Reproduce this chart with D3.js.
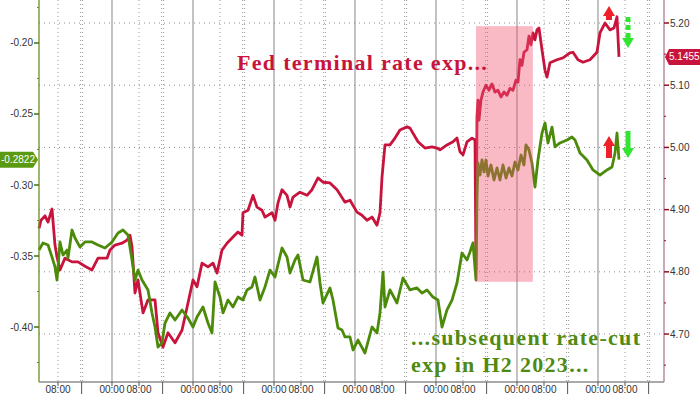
<!DOCTYPE html>
<html>
<head>
<meta charset="utf-8">
<script src="https://cdn.jsdelivr.net/npm/d3@7"></script>
<style>
  html, body { margin: 0; padding: 0; background: #fff; }
  svg { display: block; }
</style>
</head>
<body>
<div id="chart"></div>
<script>
// hours since the first midnight on the chart
const redHours = [2.37, 2.96, 4.15, 5.04, 6.22, 7.11, 7.70, 8.59, 10.07, 12.15, 13.93, 16.0, 18.07, 19.85, 22.52, 23.41,
  24.89, 26.96, 28.44, 29.33, 29.93, 30.81, 31.70, 33.19, 34.67, 36.74, 37.63, 39.11, 40.59, 42.67, 44.74, 46.52,
  48.0, 49.19, 50.67, 52.44, 53.93, 55.11, 56.59, 58.07, 59.85, 61.33, 62.52, 62.81, 64.30, 65.78, 66.96, 68.44,
  69.33, 71.41, 72.30, 73.19, 74.37, 75.85, 76.74, 77.63, 79.70, 81.78, 83.26, 85.04, 86.52, 88.59, 90.67, 93.04,
  94.52, 96.59, 98.07, 99.56, 101.04, 102.52, 103.41, 104.0, 104.89, 106.37, 107.85, 109.33, 111.41, 112.30, 114.67,
  116.74, 118.81, 120.30, 121.19, 123.26, 125.04, 126.22, 127.11, 128.0, 129.19, 130.67, 131.56, 131.85, 132.15,
  132.44, 132.74, 133.33, 133.93, 134.81, 135.70, 136.59, 137.48, 138.37, 139.26, 140.15, 141.04, 141.93, 142.81,
  143.70, 144.30, 144.89, 145.48, 146.07, 146.96, 147.56, 148.15, 148.74, 149.33, 149.93, 150.52,
  151.41, 152.30, 152.89, 153.78, 155.85, 157.63, 159.70, 160.59, 162.07, 163.56, 165.63,
  167.70, 168.59, 170.07, 171.56, 172.74, 173.63, 174.22];
const redValues = [4.870, 4.883, 4.890, 4.880, 4.901, 4.843, 4.824, 4.803, 4.822, 4.816, 4.816, 4.809, 4.803, 4.822, 4.822, 4.835,
  4.843, 4.846, 4.851, 4.859, 4.840, 4.766, 4.787, 4.734, 4.755, 4.755, 4.702, 4.679, 4.702, 4.686, 4.706, 4.750,
  4.787, 4.776, 4.814, 4.808, 4.814, 4.798, 4.835, 4.846, 4.856, 4.864, 4.859, 4.895, 4.899, 4.923, 4.904, 4.899,
  4.888, 4.895, 4.883, 4.911, 4.932, 4.923, 4.904, 4.920, 4.928, 4.923, 4.932, 4.951, 4.944, 4.943, 4.932, 4.912,
  4.915, 4.896, 4.891, 4.883, 4.888, 4.875, 4.895, 4.952, 5.004, 5.004, 5.015, 5.028, 5.033, 5.031, 5.009,
  4.999, 5.001, 4.999, 4.996, 5.004, 5.009, 5.015, 4.993, 4.988, 5.009, 5.015, 5.012, 4.803, 5.049,
  5.076, 5.044, 5.076, 5.089, 5.100, 5.092, 5.102, 5.089, 5.092, 5.081, 5.089, 5.084, 5.095, 5.092,
  5.108, 5.105, 5.141, 5.132, 5.153, 5.157, 5.179, 5.165, 5.184, 5.173, 5.189, 5.192,
  5.157, 5.124, 5.113, 5.136, 5.141, 5.144, 5.152, 5.153, 5.141, 5.137, 5.141,
  5.153, 5.184, 5.200, 5.189, 5.192, 5.210, 5.1455];

const greenHours = [2.37, 3.56, 5.04, 6.22, 7.11, 7.70, 8.59, 9.48, 10.67, 10.96, 12.15, 13.04, 14.52, 16.0, 18.07, 19.85,
  21.93, 24.0, 25.78, 27.26, 28.74, 29.93, 30.81, 31.70, 32.89, 34.67, 35.85, 36.74, 37.63, 38.81, 39.70, 41.19,
  42.67, 44.74, 46.52, 48.0, 49.19, 50.96, 52.44, 53.63, 54.52, 56.0, 56.89, 58.37, 59.85, 61.33, 62.81, 64.0,
  65.48, 66.37, 67.85, 69.33, 70.81, 72.30, 74.37, 75.85, 76.74, 78.22, 79.11, 80.59, 82.67, 84.74, 85.63, 86.52,
  88.59, 89.48, 90.96, 92.15, 93.04, 94.52, 95.41, 96.89, 98.96, 101.04, 102.52, 103.41, 104.30, 104.89, 106.37,
  108.44, 110.22, 112.30, 114.37, 115.85, 117.33, 119.11, 120.59, 121.78, 123.26, 124.74, 126.22, 127.70, 129.19,
  130.07, 130.96, 131.85, 132.15,
  132.44, 133.04, 133.63, 134.22, 134.81, 135.41, 136.30, 137.19, 138.07, 138.96, 139.85, 140.74, 141.63, 142.52,
  143.41, 144.30, 145.19, 146.07, 146.67, 147.56, 148.44, 149.33,
  150.22, 151.41, 152.30, 153.19, 154.37, 155.26, 156.74, 158.81, 160.30, 161.19,
  162.67, 164.74, 166.52, 168.59, 170.67, 172.15, 173.04, 173.63, 174.22];
const greenValues = [-0.3458, -0.3408, -0.3423, -0.3507, -0.3577, -0.3669, -0.3401, -0.3493, -0.3458, -0.3514, -0.3317, -0.3373, -0.3437, -0.3401, -0.3401, -0.3423,
  -0.3444, -0.3401, -0.3338, -0.3317, -0.3352, -0.3528, -0.3669, -0.3599, -0.3669, -0.3739, -0.3901, -0.4000, -0.4141, -0.4113, -0.3972, -0.3901,
  -0.3951, -0.3880, -0.3937, -0.4000, -0.3930, -0.3859, -0.3972, -0.4042, -0.3683, -0.3789, -0.3901, -0.3810, -0.3859, -0.3789, -0.3810, -0.3739,
  -0.3718, -0.3648, -0.3810, -0.3718, -0.3599, -0.3648, -0.3444, -0.3507, -0.3620, -0.3528, -0.3493, -0.3669, -0.3683, -0.3507, -0.3690, -0.3831,
  -0.3725, -0.3810, -0.4007, -0.4021, -0.4070, -0.4070, -0.4162, -0.4092, -0.4183, -0.4000, -0.4042, -0.3901, -0.3613, -0.3859, -0.3739,
  -0.3831, -0.3655, -0.3739, -0.3725, -0.3761, -0.3739, -0.3789, -0.3810, -0.4000, -0.3880, -0.3810, -0.3690, -0.3479, -0.3528,
  -0.3472, -0.3408, -0.3669, -0.3092,
  -0.2845, -0.2930, -0.2824, -0.2908, -0.2824, -0.2937, -0.2859, -0.2965, -0.2880, -0.2965, -0.2859, -0.2951, -0.2880, -0.2937,
  -0.2838, -0.2894, -0.2789, -0.2859, -0.2718, -0.2754, -0.2845, -0.3014,
  -0.2824, -0.2634, -0.2563, -0.2704, -0.2592, -0.2732, -0.2704, -0.2683, -0.2662, -0.2683,
  -0.2775, -0.2824, -0.2894, -0.2930, -0.2894, -0.2873, -0.2775, -0.2634, -0.2822];

const leftTicks = [-0.20, -0.25, -0.30, -0.35, -0.40];
const rightTicks = [5.20, 5.10, 5.00, 4.90, 4.80, 4.70];
const redLast = 5.1455;
const greenLast = -0.2822;
// shaded window, in hours and right-axis units
const shadeHours = [131.85, 148.7];
const shadeValues = [4.784, 5.195];

const width = 700;
const height = 394;
const margin = { top: 0, right: 36, bottom: 12, left: 39 };
const base = new Date(2023, 1, 6, 0, 0);
const at = (h) => new Date(base.getTime() + h * 3600 * 1000);

const x = d3.scaleTime()
  .domain([at(2.37), at(187.56)])
  .range([margin.left, width - margin.right]);
const yR = d3.scaleLinear().domain([4.6229, 5.237]).range([height - margin.bottom, margin.top]);
const yL = d3.scaleLinear().domain([-0.43873, -0.16972]).range([height - margin.bottom, margin.top]);

const svg = d3.select("#chart").append("svg")
  .attr("width", width)
  .attr("height", height)
  .style("font-family", "'Liberation Sans', Arial, sans-serif");

const plotBottom = height - margin.bottom;
const plotRight = width - margin.right;

// vertical grid: solid at midnight, dotted at 08:00, double dotted at 15:00
const hours = d3.timeHours(x.domain()[0], x.domain()[1]);
const midnights = hours.filter((d) => d.getHours() === 0);
const eights = hours.filter((d) => d.getHours() === 8);
const fifteens = hours.filter((d) => d.getHours() === 15);

const grid = svg.append("g");
grid.selectAll(".mid").data(midnights).join("line")
  .attr("x1", (d) => x(d)).attr("x2", (d) => x(d))
  .attr("y1", 0).attr("y2", plotBottom)
  .attr("stroke", "#9a9a9a").attr("stroke-width", 1.2);
grid.selectAll(".eight").data(eights).join("line")
  .attr("x1", (d) => x(d)).attr("x2", (d) => x(d))
  .attr("y1", 0).attr("y2", plotBottom)
  .attr("stroke", "#9a9a9a").attr("stroke-dasharray", "1,3");
[-1, 1].forEach((off) => {
  grid.append("g").selectAll("line").data(fifteens).join("line")
    .attr("x1", (d) => x(d) + off).attr("x2", (d) => x(d) + off)
    .attr("y1", 0).attr("y2", plotBottom)
    .attr("stroke", "#9a9a9a").attr("stroke-dasharray", "1,3");
});
grid.selectAll(".hz").data(rightTicks).join("line")
  .attr("x1", margin.left).attr("x2", plotRight)
  .attr("y1", (d) => yR(d)).attr("y2", (d) => yR(d))
  .attr("stroke", "#8a8a8a").attr("stroke-dasharray", "1,4");

// series
const line = (xs, ys, yScale) => d3.line()
  .x((d, i) => x(at(xs[i])))
  .y((d) => yScale(d))(ys);

svg.append("path")
  .attr("d", line(redHours, redValues, yR))
  .attr("fill", "none").attr("stroke", "#c8143c").attr("stroke-width", 2.8)
  .attr("stroke-linejoin", "round");
svg.append("path")
  .attr("d", line(greenHours, greenValues, yL))
  .attr("fill", "none").attr("stroke", "#4c8a0a").attr("stroke-width", 2.8)
  .attr("stroke-linejoin", "round");

// highlight box
svg.append("rect")
  .attr("x", x(at(shadeHours[0])))
  .attr("width", x(at(shadeHours[1])) - x(at(shadeHours[0])))
  .attr("y", yR(shadeValues[1]))
  .attr("height", yR(shadeValues[0]) - yR(shadeValues[1]))
  .attr("fill", "rgb(240,80,110)").attr("opacity", 0.4);

// x axis
svg.append("line")
  .attr("x1", margin.left).attr("x2", plotRight)
  .attr("y1", plotBottom).attr("y2", plotBottom)
  .attr("stroke", "#555");
svg.append("g").selectAll("line").data(midnights.concat(eights)).join("line")
  .attr("x1", (d) => x(d)).attr("x2", (d) => x(d))
  .attr("y1", plotBottom).attr("y2", plotBottom + 4)
  .attr("stroke", "#555");
svg.append("g").selectAll("line").data(fifteens).join("line")
  .attr("x1", (d) => x(d)).attr("x2", (d) => x(d))
  .attr("y1", plotBottom).attr("y2", height)
  .attr("stroke", "#555");
const fmt = d3.timeFormat("%H:%M");
svg.append("g").selectAll("text").data(midnights.concat(eights)).join("text")
  .attr("x", (d) => x(d)).attr("y", height - 1)
  .attr("text-anchor", "middle")
  .attr("font-size", 10).attr("fill", "#333")
  .text(fmt);

// left axis
svg.append("line")
  .attr("x1", margin.left).attr("x2", margin.left)
  .attr("y1", 0).attr("y2", plotBottom)
  .attr("stroke", "#6b8e23").attr("stroke-width", 1.3);
const leftAxis = svg.append("g");
leftAxis.selectAll("line").data(leftTicks).join("line")
  .attr("x1", margin.left - 5).attr("x2", margin.left)
  .attr("y1", (d) => yL(d)).attr("y2", (d) => yL(d))
  .attr("stroke", "#4c6a10").attr("stroke-width", 1.5);
leftAxis.append("g").selectAll("line").data(leftTicks.map((d) => d - 0.025).concat([-0.175]))
  .join("line")
  .attr("x1", margin.left - 2).attr("x2", margin.left)
  .attr("y1", (d) => yL(d)).attr("y2", (d) => yL(d))
  .attr("stroke", "#6b8e23");
leftAxis.selectAll("text").data(leftTicks).join("text")
  .attr("x", margin.left - 6).attr("y", (d) => yL(d) + 3.5)
  .attr("text-anchor", "end")
  .attr("font-size", 10).attr("fill", "#333")
  .text((d) => d3.format(".2f")(d).replace("−", "-"));

// right axis
svg.append("line")
  .attr("x1", plotRight).attr("x2", plotRight)
  .attr("y1", 0).attr("y2", plotBottom)
  .attr("stroke", "#b07a90").attr("stroke-width", 1.3);
const rightAxis = svg.append("g");
rightAxis.selectAll("line").data(rightTicks).join("line")
  .attr("x1", plotRight).attr("x2", plotRight + 5)
  .attr("y1", (d) => yR(d)).attr("y2", (d) => yR(d))
  .attr("stroke", "#8a1030").attr("stroke-width", 1.5);
rightAxis.append("g").selectAll("line").data(rightTicks.map((d) => d - 0.05))
  .join("line")
  .attr("x1", plotRight).attr("x2", plotRight + 2)
  .attr("y1", (d) => yR(d)).attr("y2", (d) => yR(d))
  .attr("stroke", "#8a1030");
rightAxis.selectAll("text").data(rightTicks).join("text")
  .attr("x", plotRight + 6).attr("y", (d) => yR(d) + 3.5)
  .attr("font-size", 10).attr("fill", "#333")
  .text(d3.format(".2f"));

// last-value badges
const gy = yL(greenLast);
svg.append("path")
  .attr("d", `M0,${gy - 8}H33L38,${gy}L33,${gy + 8}H0Z`)
  .attr("fill", "#5a9a12");
svg.append("text")
  .attr("x", 18).attr("y", gy + 3.5).attr("text-anchor", "middle")
  .attr("font-size", 10).attr("fill", "#fff")
  .text(d3.format(".4f")(greenLast).replace("−", "-"));
const ry = yR(redLast);
svg.append("path")
  .attr("d", `M${plotRight + 1},${ry}L${plotRight + 5},${ry - 8}H700V${ry + 8}H${plotRight + 5}Z`)
  .attr("fill", "#c8143c");
svg.append("text")
  .attr("x", plotRight + 5).attr("y", ry + 3.5)
  .attr("font-size", 10).attr("fill", "#fff")
  .text(d3.format(".4f")(redLast));

// arrows
const arrow = (cx, top, bottom, dir, color, dashed) => {
  const headLen = 10;
  const g = svg.append("g");
  if (dir === "up") {
    g.append("path")
      .attr("d", `M${cx},${top}L${cx + 6},${top + headLen}H${cx - 6}Z`).attr("fill", color);
    g.append("rect").attr("x", cx - 3).attr("y", top + headLen)
      .attr("width", 6).attr("height", bottom - top - headLen).attr("fill", color);
  } else {
    g.append("path")
      .attr("d", `M${cx},${bottom}L${cx + 6},${bottom - headLen}H${cx - 6}Z`).attr("fill", color);
    g.append("line").attr("x1", cx).attr("x2", cx)
      .attr("y1", top).attr("y2", bottom - headLen)
      .attr("stroke", color).attr("stroke-width", 5)
      .attr("stroke-dasharray", dashed ? "5,3" : null);
  }
};
arrow(609, 6, 20, "up", "#f0202a");
arrow(609, 136, 158, "up", "#f0202a");
arrow(628, 17, 48, "down", "#33e533", true);
arrow(628, 131, 158, "down", "#33e533");

// annotations
svg.append("text")
  .attr("x", 237).attr("y", 70)
  .attr("font-family", "'Liberation Serif', 'DejaVu Serif', serif")
  .attr("font-weight", "bold").attr("font-size", 22)
  .attr("letter-spacing", 1.3)
  .attr("fill", "#c8143c")
  .text("Fed terminal rate exp...");
const note = svg.append("text")
  .attr("font-family", "'Liberation Serif', 'DejaVu Serif', serif")
  .attr("font-weight", "bold").attr("font-size", 22)
  .attr("letter-spacing", 1.3)
  .attr("fill", "#4f8a12");
note.append("tspan").attr("x", 411).attr("y", 345).text("...subsequent rate-cut");
note.append("tspan").attr("x", 411).attr("y", 372).text("exp in H2 2023...");
</script>
</body>
</html>
